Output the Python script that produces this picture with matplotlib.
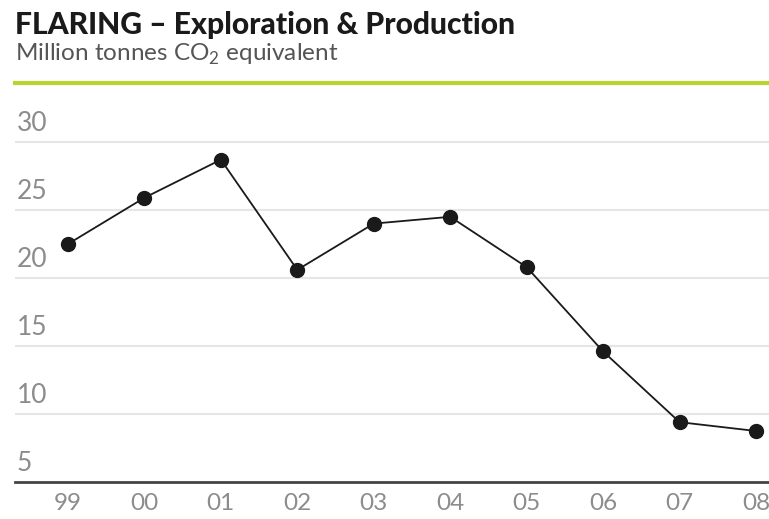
import matplotlib
matplotlib.use("Agg")
import matplotlib.pyplot as plt
from matplotlib.transforms import offset_copy

# data
tahun = ["99", "00", "01", "02", "03", "04", "05", "06", "07", "08"]
flaring = [22.5, 25.9, 28.7, 20.6, 24.0, 24.5, 20.8, 14.6, 9.4, 8.75]
yticks = [5, 10, 15, 20, 25, 30]

plt.rcParams["font.family"] = ["Lato", "DejaVu Sans"]
plt.rcParams["mathtext.fontset"] = "custom"
plt.rcParams["mathtext.rm"] = "Lato"

fig = plt.figure(figsize=(7.69, 5.19), dpi=100)
ax = fig.add_axes([0.0195, 0.0713, 0.9805, 0.6944])

x = list(range(len(tahun)))
ax.plot(x, flaring, color="#1a1a1a", lw=1.3, marker="o", ms=10,
        mfc="#1a1a1a", mec="#1a1a1a", zorder=3)

ax.set_xlim(-0.693, 9.17)
ax.set_ylim(5, 31.5)

# grid lines
for v in yticks[1:]:
    ax.axhline(v, color="#e6e6e6", lw=1.5, zorder=1)

ax.set_yticks([])
ax.set_xticks(x)
ax.set_xticklabels(tahun, fontsize=17.5, color="#8c8c8c")
ax.tick_params(axis="x", length=0, pad=8)

for s in ["top", "right", "left"]:
    ax.spines[s].set_visible(False)
ax.spines["bottom"].set_color("#444444")
ax.spines["bottom"].set_linewidth(2)

# y labels sit above the grid lines
trans = offset_copy(ax.get_yaxis_transform(), fig=fig, x=2, y=11, units="dots")
for v in yticks:
    ax.text(0, v, str(v), transform=trans, fontsize=19, color="#8c8c8c",
            ha="left", va="baseline")

fig.text(0.0195, 0.935, "FLARING \u2013 Exploration & Production",
         fontsize=21.6, fontweight="black", color="#1a1a1a", va="baseline")
fig.text(0.0195, 0.882, r"Million tonnes CO$_2$ equivalent",
         fontsize=17.5, color="#555555", va="baseline")
fig.add_artist(plt.Line2D([0.0195, 1.0], [0.841, 0.841], color="#b8d432",
                          lw=3, transform=fig.transFigure))

plt.savefig("out.png", dpi=100)
